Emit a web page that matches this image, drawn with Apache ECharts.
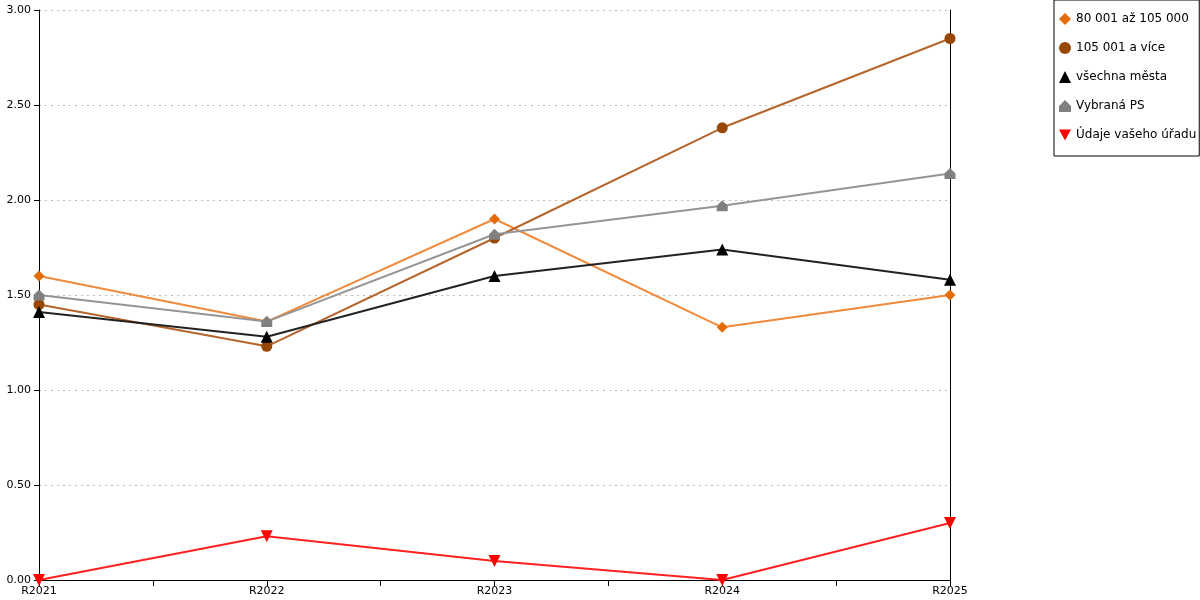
<!DOCTYPE html>
<html>
<head>
<meta charset="utf-8">
<script src="https://cdn.jsdelivr.net/npm/echarts@6/dist/echarts.min.js"></script>
<style>
  html, body { margin: 0; padding: 0; background: #fff; }
  #main { width: 1200px; height: 600px; }
</style>
</head>
<body>
<div id="main"></div>
<script>
// data
var categories = ['R2021', 'R2022', 'R2023', 'R2024', 'R2025'];
var mesta80 = [1.60, 1.36, 1.90, 1.33, 1.50];
var mesta105 = [1.45, 1.23, 1.80, 2.38, 2.85];
var vsechnaMesta = [1.41, 1.28, 1.60, 1.74, 1.58];
var vybranaPS = [1.50, 1.36, 1.82, 1.97, 2.14];
var vasUrad = [0.00, 0.23, 0.10, 0.00, 0.30];

var housePath = 'path://M5,0 L10,5 L10,10 L0,10 L0,5 Z';
var downTriangle = 'path://M0,0 L10,0 L5,9 Z';

function pairs(values) {
    var out = [];
    for (var i = 0; i < values.length; i++) {
        out.push([i, values[i]]);
    }
    return out;
}

function makeSeries(name, values, lineColor, markColor, symbol, size) {
    return {
        name: name,
        type: 'line',
        data: pairs(values),
        symbol: symbol,
        symbolSize: size,
        lineStyle: { color: lineColor, width: 2 },
        itemStyle: { color: markColor },
        emphasis: { disabled: true },
        z: 3
    };
}

var myChart = echarts.init(document.getElementById('main'));
var option = {
    animation: false,
    textStyle: { fontFamily: 'DejaVu Sans' },
    grid: { left: 39, right: 250, top: 10, bottom: 20 },
    legend: {
        orient: 'vertical',
        left: 1054,
        top: 0,
        padding: [13, 3, 15, 5],
        itemWidth: 12,
        itemHeight: 12,
        itemGap: 17,
        borderColor: '#000',
        borderWidth: 1,
        textStyle: { fontFamily: 'DejaVu Sans', fontSize: 12, color: '#000' },
        data: [
            { name: '80 001 až 105 000', icon: 'diamond' },
            { name: '105 001 a více', icon: 'circle' },
            { name: 'všechna města', icon: 'triangle' },
            { name: 'Vybraná PS', icon: housePath },
            { name: 'Údaje vašeho úřadu', icon: downTriangle }
        ]
    },
    xAxis: {
        type: 'value',
        min: 0,
        max: 4,
        interval: 0.5,
        axisLine: { lineStyle: { color: '#000', width: 1 } },
        axisTick: { show: true, length: 6, lineStyle: { color: '#000' } },
        splitLine: { show: false },
        axisLabel: {
            color: '#000',
            fontSize: 11,
            margin: 6,
            formatter: function (v) {
                return v % 1 === 0 ? categories[v] : '';
            }
        }
    },
    yAxis: [{
        type: 'value',
        min: 0,
        max: 3,
        interval: 0.5,
        axisLine: { show: true, lineStyle: { color: '#000', width: 1 } },
        axisTick: { show: true, length: 5, lineStyle: { color: '#000' } },
        splitLine: { show: true, lineStyle: { color: '#bbb', type: [2, 4] } },
        axisLabel: {
            color: '#000',
            fontSize: 11,
            margin: 8,
            formatter: function (v) { return v.toFixed(2); }
        }
    }, {
        type: 'value',
        position: 'right',
        min: 0,
        max: 3,
        interval: 0.5,
        axisLine: { show: true, lineStyle: { color: '#000', width: 1 } },
        axisTick: { show: false },
        axisLabel: { show: false },
        splitLine: { show: false }
    }],
    series: [
        makeSeries('80 001 až 105 000', mesta80, '#f08a3c', '#e36c09', 'diamond', 11),
        makeSeries('105 001 a více', mesta105, '#b5652c', '#974806', 'circle', 11),
        makeSeries('všechna města', vsechnaMesta, '#222', '#000', 'triangle', 12),
        makeSeries('Vybraná PS', vybranaPS, '#959595', '#808080', housePath, 11),
        makeSeries('Údaje vašeho úřadu', vasUrad, '#ff2020', '#ff0000', downTriangle, 12)
    ]
};
myChart.setOption(option);
</script>
</body>
</html>
